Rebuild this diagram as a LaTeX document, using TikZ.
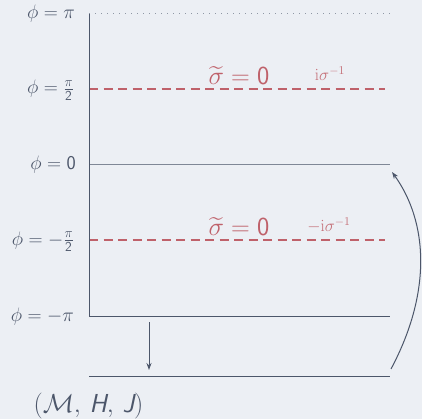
\documentclass[tikz,border=0pt]{standalone}
\usepackage{fix-cm}
\usepackage{amsmath}
\usetikzlibrary{arrows.meta}
\definecolor{bgc}{HTML}{ECEFF4}
\definecolor{ink}{HTML}{4C566A}
\definecolor{redc}{HTML}{BF616A}
\definecolor{lineg}{HTML}{7F8796}
\definecolor{dotg}{HTML}{8F97A4}
\tikzset{
  philabel/.style={anchor=base east, text=ink, inner sep=0pt, font=\fontsize{19.5}{22}\selectfont},
  biglabel/.style={anchor=base, text=redc, inner sep=0pt, font=\fontsize{26}{30}\selectfont},
  smalllabel/.style={anchor=base, text=redc!90, inner sep=0pt, font=\fontsize{17}{20}\selectfont},
  axisline/.style={draw=ink, line width=1pt},
  reddash/.style={draw=redc, line width=2pt, dash pattern=on 9pt off 5.5pt},
  dotline/.style={draw=dotg, line width=1pt, dash pattern=on 1pt off 5pt},
  arr/.style={draw=ink, line width=1pt, -{Stealth[length=7pt,width=5pt]}}
}
\begin{document}
\begin{tikzpicture}[x=1pt,y=-1pt]
\fill[bgc] (0,0) rectangle (422,419);
\useasboundingbox (0,0) rectangle (422,419);
% coordinates
\coordinate (top) at (89,14);
\coordinate (topR) at (390,14);
\coordinate (halfL) at (89,89);
\coordinate (halfR) at (385,89);
\coordinate (zeroL) at (89,165);
\coordinate (zeroR) at (390,165);
\coordinate (mhalfL) at (89,240);
\coordinate (mhalfR) at (385,240);
\coordinate (mpiL) at (89,316);
\coordinate (mpiR) at (390,316);
\coordinate (baseL) at (89,376);
\coordinate (baseR) at (390,376);
\coordinate (downS) at (149,322);
\coordinate (downE) at (149,370);
\coordinate (curS) at (391,369);
\coordinate (curE) at (392,172);
% lines
\draw[dotline] (top) -- (topR);
\draw[reddash] (halfL) -- (halfR);
\draw[reddash] (mhalfL) -- (mhalfR);
\draw[draw=lineg, line width=1pt] (zeroL) -- (zeroR);
\draw[axisline] (top) -- (mpiL) -- (mpiR);
\draw[axisline] (baseL) -- (baseR);
\draw[arr] (downS) -- (downE);
\draw[arr] (curS) .. controls (432,292) and (428,222) .. (curE);
% labels
\node[philabel] (lpi) at (75,19) {$\phi = \pi$};
\node[philabel] (lhalf) at (74,94) {$\phi = \frac{\pi}{\mathsf{2}}$};
\node[philabel] (lzero) at (76,170) {$\phi = \mathsf{0}$};
\node[philabel] (lmhalf) at (74,245) {$\phi = -\frac{\pi}{\mathsf{2}}$};
\node[philabel] (lmpi) at (74,321) {$\phi = -\pi$};
\node[biglabel] (s1) at (239,85) {$\widetilde{\sigma} = \mathsf{0}$};
\node[biglabel] (s2) at (239,236) {$\widetilde{\sigma} = \mathsf{0}$};
\node[smalllabel] (t1) at (330,81) {$\mathrm{i}\sigma^{-1}$};
\node[smalllabel] (t2) at (329,232) {$-\mathrm{i}\sigma^{-1}$};
\node[anchor=base, text=ink, inner sep=0pt, font=\fontsize{26}{30}\selectfont] (mhj) at (88.5,412)
  {$(\mathcal{M},\,\textsf{\itshape H},\,\textsf{\itshape J})$};
\end{tikzpicture}
\end{document}
